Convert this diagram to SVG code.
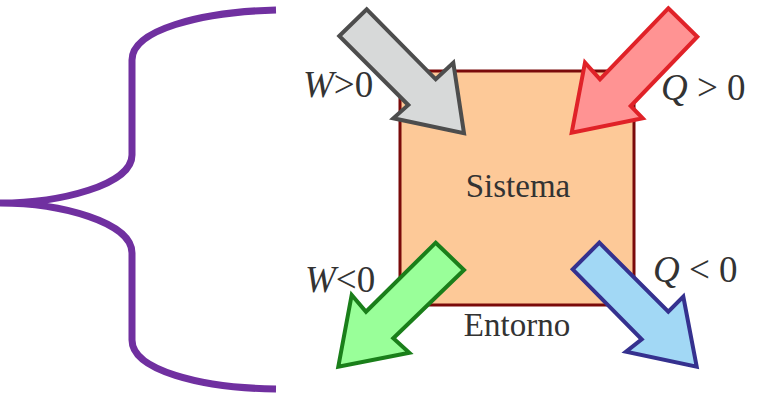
<svg xmlns="http://www.w3.org/2000/svg" width="757" height="396" viewBox="0 0 757 396">
<style>
.t{font-family:"Liberation Serif","Times New Roman",serif;fill:#333333}
.lbl{font-size:37px}
.arr{stroke-width:4;stroke-linejoin:miter}
</style>
<rect width="757" height="396" fill="#ffffff"/>
<g id="brace">
<path d="M276,10 C200,12 132,30 132,60 L132,155 C132,185 60,203 0,203 C60,203 132,222 132,253 L132,340 C132,370 200,388 276,389" fill="none" stroke="#7030a0" stroke-width="7"/>
</g>
<g id="sistema">
<rect x="400" y="71" width="234" height="234" fill="#fdc998" stroke="#7a0a0a" stroke-width="3"/>
<text class="t" x="518" y="197" font-size="33" text-anchor="middle">Sistema</text>
</g>
<g id="entorno">
<text class="t" x="517" y="336" font-size="33" text-anchor="middle">Entorno</text>
</g>
<g id="connectors">
<g id="w-pos">
<polygon class="arr" points="339.3,36 366.7,9.3 435.7,79.3 453.3,62.7 464,133.3 393.3,118.3 408.3,105" fill="#d7d9d9" stroke="#4d4d4d"/>
</g>
<g id="q-pos">
<polygon class="arr" points="668.3,8.3 697.3,36.7 630.7,106 642.7,118.3 571.7,132.7 585,62.7 600,79.3" fill="#ff9393" stroke="#e02228"/>
</g>
<g id="w-neg">
<polygon class="arr" points="435.7,242.7 464,270 393.3,338.3 409.3,352.7 338.3,366.7 351.7,295 366,311.7" fill="#99ff99" stroke="#1a7f1a"/>
</g>
<g id="q-neg">
<polygon class="arr" points="599.3,242.7 572.7,269.3 641.7,339.3 626,351.7 696.7,366.7 683.3,296.7 668.3,311.7" fill="#a2d8f5" stroke="#35318f"/>
</g>
</g>
<g id="labels">
<text class="t lbl" x="303" y="97"><tspan font-style="italic">W</tspan>&gt;0</text>
<text class="t lbl" x="661" y="100"><tspan font-style="italic">Q</tspan> &gt; 0</text>
<text class="t lbl" x="305" y="292"><tspan font-style="italic">W</tspan>&lt;0</text>
<text class="t lbl" x="653" y="282"><tspan font-style="italic">Q</tspan> &lt; 0</text>
</g>
</svg>
